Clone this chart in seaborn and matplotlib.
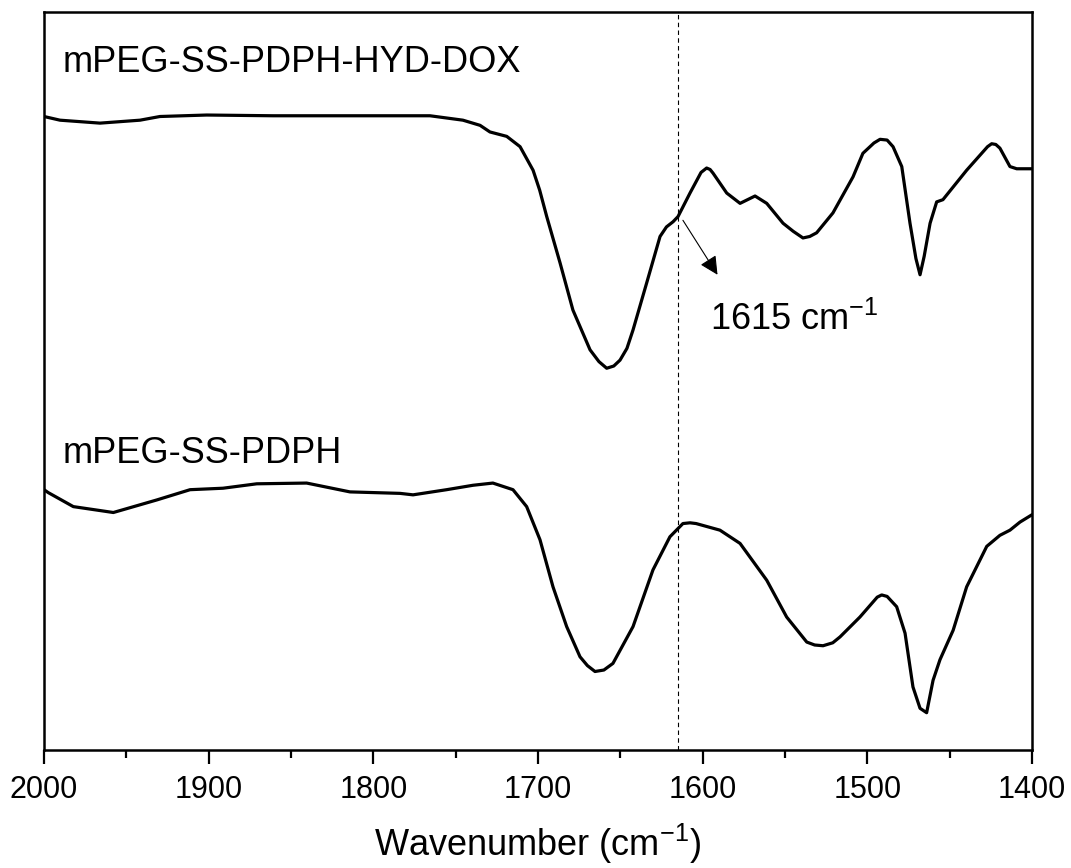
import numpy as np
import pandas as pd
import seaborn as sns
import matplotlib.pyplot as plt
from matplotlib.ticker import MultipleLocator

# FTIR spectra (transmittance, arbitrary units)
wn_dox = [2000, 1990.3, 1966.0, 1941.7, 1929.6, 1901.2, 1860.9, 1800.2, 1765.6,
          1745.6, 1735.2, 1729.2, 1719.0, 1710.9, 1703.0, 1699.0, 1694.7, 1686.6,
          1678.8, 1668.4, 1663.0, 1658.3, 1654.0, 1650.2, 1646.0, 1642.3, 1634.0,
          1625.9, 1622.0, 1618.0, 1615.0, 1607.7, 1601.0, 1597.6, 1595.5, 1593.7,
          1585.4, 1577.3, 1568.2, 1561.1, 1551.2, 1545.0, 1539.1, 1535.0, 1530.8,
          1520.9, 1508.7, 1502.7, 1496.0, 1492.3, 1488.0, 1484.4, 1479.1, 1474.1,
          1470.5, 1468.0, 1465.5, 1461.9, 1457.9, 1454.1, 1439.7, 1427.0, 1424.5,
          1422.0, 1419.5, 1413.4, 1409.3, 1400]
t_dox = [85.8, 85.3, 84.9, 85.3, 85.8, 86.0, 85.9, 85.9, 85.9,
         85.3, 84.6, 83.7, 83.1, 81.7, 78.5, 75.8, 72.2, 65.9,
         59.5, 54.1, 52.5, 51.6, 51.9, 52.7, 54.3, 56.8, 63.2,
         69.5, 70.8, 71.5, 72.2, 75.4, 78.2, 78.8, 78.6, 78.1,
         75.4, 74.0, 75.0, 74.0, 71.3, 70.2, 69.3, 69.5, 70.0,
         72.7, 77.6, 80.8, 82.2, 82.7, 82.6, 81.7, 79.0, 71.3,
         66.5, 64.3, 66.8, 71.3, 74.2, 74.5, 78.5, 81.7, 82.1,
         82.0, 81.5, 79.0, 78.7, 78.7]

wn_pdph = [2000, 1997.4, 1982.2, 1957.9, 1931.6, 1911.3, 1891.3, 1870.8, 1840.5,
           1814.2, 1783.8, 1775.9, 1755.5, 1739.5, 1727.4, 1715.2, 1706.9, 1698.8,
           1690.9, 1682.6, 1674.5, 1670.0, 1665.4, 1660.0, 1654.5, 1642.3, 1630.2,
           1619.9, 1612.0, 1607.7, 1604.0, 1589.5, 1577.3, 1561.1, 1549.0, 1536.8,
           1532.0, 1526.9, 1521.0, 1516.6, 1504.5, 1494.0, 1491.3, 1488.0, 1482.2,
           1477.1, 1472.3, 1468.0, 1464.0, 1460.1, 1455.9, 1447.9, 1439.7, 1427.5,
           1419.5, 1413.4, 1407.3, 1400]
t_pdph = [35.1, 34.7, 32.8, 32.0, 33.7, 35.1, 35.3, 35.9, 36.0,
          34.8, 34.6, 34.4, 35.1, 35.7, 36.0, 35.1, 32.8, 28.3,
          21.9, 16.5, 12.4, 11.2, 10.4, 10.6, 11.5, 16.5, 24.2,
          28.7, 30.5, 30.6, 30.5, 29.6, 27.8, 22.8, 17.8, 14.4,
          14.0, 13.9, 14.3, 15.1, 17.8, 20.5, 20.8, 20.6, 19.2,
          15.6, 8.3, 5.4, 4.8, 9.2, 12.0, 16.0, 21.9, 27.4,
          28.9, 29.6, 30.7, 31.7]

labels = ["mPEG-SS-PDPH-HYD-DOX", "mPEG-SS-PDPH"]
marker_wn = 1615

df = pd.concat([
    pd.DataFrame({"Wavenumber": wn_dox, "T": t_dox, "Sample": labels[0]}),
    pd.DataFrame({"Wavenumber": wn_pdph, "T": t_pdph, "Sample": labels[1]}),
])

sns.set_style("ticks")
plt.rcParams["font.family"] = ["Liberation Sans", "DejaVu Sans"]
plt.rcParams["mathtext.fontset"] = "custom"
plt.rcParams["mathtext.rm"] = "Liberation Sans"
plt.rcParams["mathtext.default"] = "regular"
plt.rcParams["text.color"] = "black"
plt.rcParams["axes.labelcolor"] = "black"
plt.rcParams["xtick.color"] = "black"

fig = plt.figure(figsize=(10.71, 8.68), dpi=100)
ax = fig.add_axes([0.0411, 0.1359, 0.9225, 0.8503])

sns.lineplot(data=df, x="Wavenumber", y="T", units="Sample", estimator=None,
             color="black", linewidth=2.3, ax=ax)

ax.axvline(marker_wn, color="black", linestyle=(0, (4, 3)), linewidth=0.8)

ax.annotate("", xy=(1591, 64.3), xytext=(1612, 71.7),
            arrowprops=dict(arrowstyle="-|>", color="black", lw=0.8,
                            mutation_scale=28, shrinkA=0, shrinkB=0))
ax.text(1595.6, 56.8, "1615 cm$^{-1}$", fontsize=26, va="baseline", ha="left")

ax.text(1989, 91.8, labels[0], fontsize=26, va="baseline", ha="left")
ax.text(1989, 38.7, labels[1], fontsize=26, va="baseline", ha="left")

ax.set_xlim(2000, 1400)
ax.set_ylim(-0.27, 100)
ax.set_yticks([])
ax.set_ylabel("")
ax.xaxis.set_major_locator(MultipleLocator(100))
ax.xaxis.set_minor_locator(MultipleLocator(50))
ax.tick_params(axis="x", which="major", direction="out", length=10, width=1.6,
               labelsize=22, pad=8, colors="black")
ax.tick_params(axis="x", which="minor", direction="out", length=5.5, width=1.6,
               colors="black")
ax.set_xlabel("Wavenumber (cm$^{-1}$)", fontsize=26, labelpad=12)
for s in ax.spines.values():
    s.set_linewidth(1.8)
    s.set_color("black")

fig.savefig("out.png", dpi=100)
